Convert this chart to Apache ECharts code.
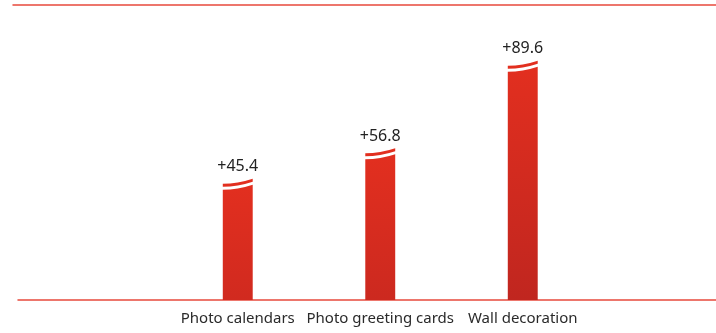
<!DOCTYPE html>
<html>
<head>
<meta charset="utf-8">
<script src="https://cdn.jsdelivr.net/npm/echarts@6/dist/echarts.min.js"></script>
<style>
  html, body { margin: 0; padding: 0; background: #fff; }
  #chart { width: 716px; height: 333px; }
</style>
</head>
<body>
<div id="chart"></div>
<script>
// Growth by product line
const categories = ['Photo calendars', 'Photo greeting cards', 'Wall decoration'];
const growth = [45.4, 56.8, 89.6];
const valueLabels = ['+45.4', '+56.8', '+89.6'];

const RED_TOP = [226, 47, 31];
const RED_BOTTOM = [192, 38, 31];
const LINE_RED = '#e8493c';

function mix(a, b, t) {
  return 'rgb(' + a.map((v, i) => Math.round(v + (b[i] - v) * t)).join(',') + ')';
}

const tallest = Math.max(...growth);

function renderBar(params, api) {
  const idx = api.value(0);
  const val = api.value(1);
  const top = api.coord([idx, val]);
  const base = api.coord([idx, 0]);
  const w = api.size([1, 0])[0] * 0.21;
  const x0 = top[0] - w / 2;
  const x1 = top[0] + w / 2;
  const yT = top[1];
  const rise = 5;
  const capH = 3;
  const gap = 3;
  // curved cap strip above the break
  const cap = [
    'M', x0, yT + rise,
    'Q', x0 + w * 0.5, yT + rise, x1, yT,
    'L', x1, yT + capH,
    'Q', x0 + w * 0.5, yT + rise + capH, x0, yT + rise + capH,
    'Z'
  ].join(' ');
  const bTop = yT + capH + gap;
  const body = [
    'M', x0, base[1],
    'L', x0, bTop + rise,
    'Q', x0 + w * 0.5, bTop + rise, x1, bTop,
    'L', x1, base[1],
    'Z'
  ].join(' ');
  const topColor = mix(RED_TOP, RED_TOP, 0);
  const bottomColor = mix(RED_TOP, RED_BOTTOM, val / tallest);
  const grad = new echarts.graphic.LinearGradient(0, 0, 0, 1, [
    { offset: 0, color: topColor },
    { offset: 1, color: bottomColor }
  ]);
  return {
    type: 'group',
    children: [
      { type: 'path', shape: { pathData: body }, style: { fill: grad } },
      { type: 'path', shape: { pathData: cap }, style: { fill: topColor } },
      {
        type: 'text',
        style: {
          text: valueLabels[params.dataIndex],
          x: top[0], y: yT - 12,
          align: 'center', verticalAlign: 'middle',
          fill: '#222', font: '16px "Noto Sans", sans-serif'
        }
      }
    ]
  };
}

const chart = echarts.init(document.getElementById('chart'), null, { renderer: 'canvas' });
chart.setOption({
  animation: false,
  backgroundColor: '#fff',
  grid: [
    { left: 166.5, right: 122, top: 5, bottom: 33 },
    { left: 18, right: 0, top: 5, bottom: 33 },
    { left: 13, right: 0, top: 5, bottom: 33 }
  ],
  xAxis: [
    {
      gridIndex: 0, type: 'category', data: categories,
      axisLine: { show: false }, axisTick: { show: false },
      axisLabel: { interval: 0, color: '#2a2a2a', fontSize: 15, fontFamily: '"Noto Sans", sans-serif', margin: 11 }
    },
    {
      gridIndex: 1, type: 'value', min: 0, max: 1, position: 'bottom',
      axisLine: { show: true, onZero: false, lineStyle: { color: LINE_RED, width: 1.5 } },
      axisTick: { show: false }, axisLabel: { show: false }, splitLine: { show: false }
    },
    {
      gridIndex: 2, type: 'value', min: 0, max: 1, position: 'top',
      axisLine: { show: true, onZero: false, lineStyle: { color: LINE_RED, width: 1.5 } },
      axisTick: { show: false }, axisLabel: { show: false }, splitLine: { show: false }
    }
  ],
  yAxis: [
    { gridIndex: 0, type: 'value', min: 0, max: 110.5, show: false },
    { gridIndex: 1, type: 'value', min: 0, max: 1, show: false },
    { gridIndex: 2, type: 'value', min: 0, max: 1, show: false }
  ],
  series: [{
    type: 'custom',
    xAxisIndex: 0, yAxisIndex: 0,
    renderItem: renderBar,
    encode: { x: 0, y: 1 },
    data: growth.map((v, i) => [i, v])
  }]
});
</script>
</body>
</html>
